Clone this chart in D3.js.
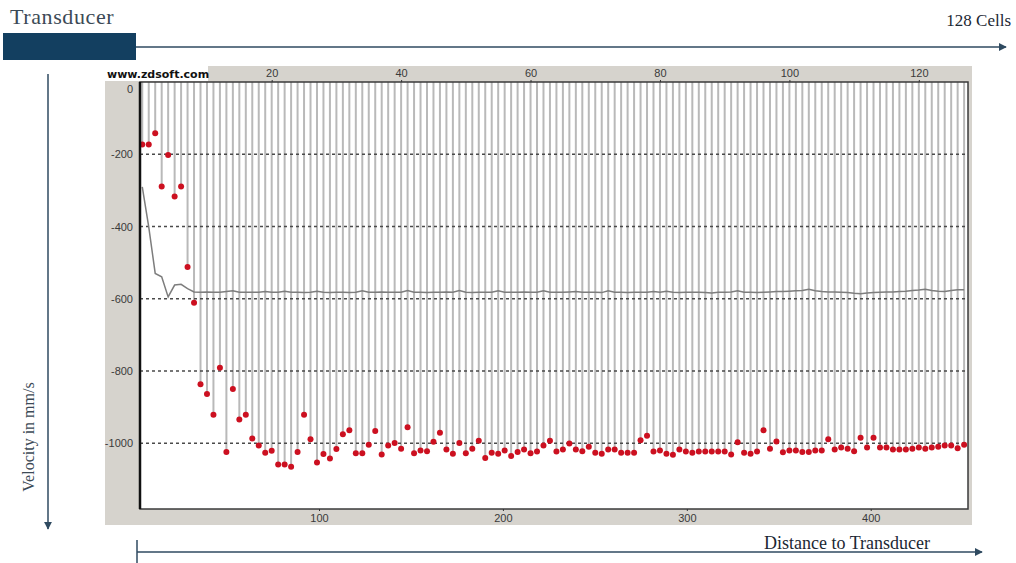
<!DOCTYPE html>
<html>
<head>
<meta charset="utf-8">
<script src="https://cdn.jsdelivr.net/npm/d3@7"></script>
<style>
  body { margin: 0; background: #fff; }
  svg { display: block; }
</style>
</head>
<body>
<svg width="1016" height="563"></svg>
<script>
// velocity per cell (mm/s)
var velocity = [
    -173, -173, -142, -289, -202, -317, -289, -512, -611, -837,
    -864, -921, -791, -1024, -850, -934, -921, -987, -1006, -1026,
    -1021, -1059, -1059, -1065, -1024, -921, -989, -1053, -1030, -1042,
    -1016, -975, -964, -1028, -1028, -1004, -966, -1031, -1006, -999,
    -1015, -956, -1028, -1020, -1022, -996, -971, -1017, -1029, -999,
    -1028, -1015, -993, -1041, -1026, -1029, -1020, -1035, -1024, -1017,
    -1028, -1023, -1006, -993, -1023, -1017, -1001, -1017, -1022, -1010,
    -1026, -1029, -1017, -1017, -1026, -1026, -1026, -992, -979, -1023,
    -1020, -1029, -1032, -1017, -1023, -1026, -1023, -1023, -1023, -1023,
    -1023, -1031, -997, -1026, -1029, -1023, -964, -1015, -995, -1025,
    -1020, -1020, -1024, -1024, -1020, -1020, -989, -1017, -1012, -1015,
    -1022, -985, -1012, -985, -1012, -1012, -1017, -1017, -1017, -1015,
    -1012, -1015, -1012, -1010, -1006, -1006, -1014, -1004
]
// gray trace
var meanVelocity = [
    -290, -401, -530, -539, -595, -562, -560, -572, -581, -582,
    -581, -582, -582, -580, -578, -582, -582, -582, -582, -580,
    -582, -582, -579, -582, -582, -583, -582, -579, -582, -583,
    -582, -582, -583, -582, -578, -582, -582, -581, -582, -582,
    -582, -577, -582, -582, -583, -582, -582, -581, -582, -577,
    -582, -583, -582, -582, -582, -578, -582, -582, -582, -581,
    -582, -582, -578, -582, -582, -582, -581, -580, -582, -582,
    -582, -583, -578, -582, -582, -583, -582, -582, -582, -580,
    -582, -579, -582, -583, -582, -582, -582, -583, -584, -582,
    -582, -581, -578, -582, -582, -583, -582, -581, -580, -580,
    -579, -578, -577, -574, -578, -580, -581, -581, -582, -583,
    -585, -586, -584, -583, -582, -581, -581, -580, -579, -577,
    -576, -574, -577, -579, -580, -577, -575, -575
]
var yTicks = [0, -200, -400, -600, -800, -1000]
var cellTicks = [20, 40, 60, 80, 100, 120]
var distTicks = [100, 200, 300, 400]

var svg = d3.select('svg')
var arrowCol = '#2f4a60'

// panel & plot box
var panel = {x0: 105, y0: 66, x1: 972, y1: 525}
var plot = {x0: 140, y0: 82, x1: 968, y1: 509}

var cellScale = d3.scaleLinear().domain([-0.35, 127.6]).range([plot.x0, plot.x1])
var distScale = d3.scaleLinear().domain([2.66, 452.9]).range([plot.x0, plot.x1])
var yScale = d3.scaleLinear().domain([0, -1182]).range([plot.y0, plot.y1])

svg.append('rect')
    .attr('x', panel.x0).attr('y', panel.y0)
    .attr('width', panel.x1 - panel.x0).attr('height', panel.y1 - panel.y0)
    .attr('fill', '#d6d3cd')
svg.append('rect')
    .attr('x', plot.x0).attr('y', plot.y0)
    .attr('width', plot.x1 - plot.x0).attr('height', plot.y1 - plot.y0)
    .attr('fill', '#fff')

// stems from the top edge down to each point
svg.append('g').selectAll('line')
    .data(velocity)
    .join('line')
    .attr('x1', function(d, i) { return cellScale(i) })
    .attr('x2', function(d, i) { return cellScale(i) })
    .attr('y1', plot.y0)
    .attr('y2', function(d) { return yScale(d) })
    .attr('stroke', '#b9b9b9')
    .attr('stroke-width', 2)

// dotted grid
svg.append('g').selectAll('line')
    .data(yTicks.slice(1))
    .join('line')
    .attr('x1', plot.x0).attr('x2', plot.x1)
    .attr('y1', function(d) { return yScale(d) })
    .attr('y2', function(d) { return yScale(d) })
    .attr('stroke', '#4a4a4a')
    .attr('stroke-width', 1.5)
    .attr('stroke-dasharray', '3,3')

var lineFunc = d3.line()
    .x(function(d, i) { return cellScale(i) })
    .y(function(d) { return yScale(d) })
svg.append('path')
    .attr('d', lineFunc(meanVelocity))
    .attr('fill', 'none')
    .attr('stroke', '#7d7d7d')
    .attr('stroke-width', 1.5)

svg.append('g').selectAll('circle')
    .data(velocity)
    .join('circle')
    .attr('cx', function(d, i) { return cellScale(i) })
    .attr('cy', function(d) { return yScale(d) })
    .attr('r', 3)
    .attr('fill', '#cc1020')

// frame
svg.append('rect')
    .attr('x', plot.x0).attr('y', plot.y0)
    .attr('width', plot.x1 - plot.x0).attr('height', plot.y1 - plot.y0)
    .attr('fill', 'none')
    .attr('stroke', '#3a3a3a')
    .attr('stroke-width', 1.5)
svg.append('line')
    .attr('x1', plot.x0).attr('x2', plot.x0)
    .attr('y1', plot.y0).attr('y2', plot.y1)
    .attr('stroke', '#111').attr('stroke-width', 2.5)

// axes
function plain(d) { return String(d) }
function styleAxis(g) {
    g.select('.domain').remove()
    g.selectAll('line').attr('stroke', '#333')
    g.selectAll('text')
        .attr('fill', '#3a3a3a')
        .style('font-family', 'Liberation Sans, Arial, sans-serif')
        .style('font-size', '11px')
}
var yAxisG = svg.append('g')
    .attr('transform', 'translate(' + plot.x0 + ',0)')
    .call(d3.axisLeft(yScale).tickValues(yTicks).tickFormat(plain).tickSize(0).tickPadding(7))
    .call(styleAxis)
// the 0 label sits just under the watermark box
yAxisG.selectAll('.tick').filter(function(d) { return d === 0 })
    .select('text').attr('dy', '0.95em')
svg.append('g')
    .attr('transform', 'translate(0,' + plot.y0 + ')')
    .call(d3.axisTop(cellScale).tickValues(cellTicks).tickFormat(plain).tickSize(2).tickPadding(3))
    .call(styleAxis)
svg.append('g')
    .attr('transform', 'translate(0,' + plot.y1 + ')')
    .call(d3.axisBottom(distScale).tickValues(distTicks).tickFormat(plain).tickSize(2).tickPadding(3))
    .call(styleAxis)

// watermark
svg.append('rect')
    .attr('x', panel.x0).attr('y', panel.y0)
    .attr('width', 103).attr('height', 15)
    .attr('fill', '#fff')
svg.append('text')
    .attr('x', panel.x0 + 2).attr('y', panel.y0 + 12)
    .style('font-family', 'DejaVu Sans, Verdana, sans-serif')
    .style('font-size', '11px').style('font-weight', 'bold')
    .attr('fill', '#111')
    .text('www.zdsoft.com')

// annotation: transducer block and arrows
svg.append('defs').append('marker')
    .attr('id', 'arr')
    .attr('viewBox', '0 0 10 10')
    .attr('refX', 9).attr('refY', 5)
    .attr('markerWidth', 5.5).attr('markerHeight', 5.5)
    .attr('orient', 'auto')
    .append('path').attr('d', 'M0,0L10,5L0,10Z').attr('fill', arrowCol)

svg.append('text')
    .attr('x', 10).attr('y', 24)
    .style('font-family', 'Liberation Serif, Times New Roman, serif')
    .style('font-size', '22px').style('letter-spacing', '0.6px')
    .attr('fill', '#3c4a56')
    .text('Transducer')
svg.append('rect')
    .attr('x', 3).attr('y', 33).attr('width', 133).attr('height', 27)
    .attr('fill', '#133f60')
svg.append('line')
    .attr('x1', 136).attr('x2', 1006).attr('y1', 47).attr('y2', 47)
    .attr('stroke', arrowCol).attr('stroke-width', 1.5)
    .attr('marker-end', 'url(#arr)')
svg.append('text')
    .attr('x', 1011).attr('y', 26).attr('text-anchor', 'end')
    .style('font-family', 'Liberation Serif, Times New Roman, serif')
    .style('font-size', '17px')
    .attr('fill', '#1c2833')
    .text('128 Cells')

svg.append('line')
    .attr('x1', 48).attr('x2', 48).attr('y1', 74).attr('y2', 529)
    .attr('stroke', arrowCol).attr('stroke-width', 1.5)
    .attr('marker-end', 'url(#arr)')
svg.append('text')
    .attr('transform', 'translate(34,437) rotate(-90)')
    .attr('text-anchor', 'middle')
    .style('font-family', 'Liberation Serif, Times New Roman, serif')
    .style('font-size', '16px')
    .attr('fill', '#3c4a56')
    .text('Velocity in mm/s')

svg.append('line')
    .attr('x1', 137).attr('x2', 137).attr('y1', 540).attr('y2', 563)
    .attr('stroke', arrowCol).attr('stroke-width', 1.5)
svg.append('line')
    .attr('x1', 137).attr('x2', 982).attr('y1', 552).attr('y2', 552)
    .attr('stroke', arrowCol).attr('stroke-width', 1.5)
    .attr('marker-end', 'url(#arr)')
svg.append('text')
    .attr('x', 930).attr('y', 549).attr('text-anchor', 'end')
    .style('font-family', 'Liberation Serif, Times New Roman, serif')
    .style('font-size', '18px')
    .attr('fill', '#1b2733')
    .text('Distance to Transducer')
</script>
</body>
</html>
